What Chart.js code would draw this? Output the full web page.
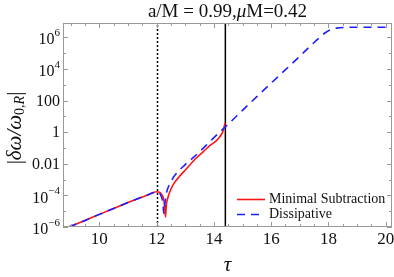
<!DOCTYPE html>
<html>
<head>
<meta charset="utf-8">
<script src="https://cdn.jsdelivr.net/npm/chart.js@4.4.0/dist/chart.umd.min.js"></script>
<style>
html,body{margin:0;padding:0;background:#fff;}
</style>
</head>
<body>
<canvas id="plot" width="394" height="277"></canvas>
<script>
// Minimal Subtraction (red, solid)
var msTau = [8.94, 9.5, 10, 10.5, 11, 11.5, 11.75, 12.0, 12.1, 12.18, 12.24, 12.28, 12.31, 12.34, 12.4, 12.5, 12.6, 12.8, 13.0, 13.35, 13.65, 13.9, 14.05, 14.17, 14.25, 14.31, 14.35, 14.39];
var msVal = [1.0e-6, 2.6e-6, 6.3e-6, 1.5e-5, 3.5e-5, 7.9e-5, 1.2e-4, 1.7e-4, 1.6e-4, 1.1e-4, 6.3e-5, 2.0e-5, 4.3e-6, 2.5e-5, 7.9e-5, 2.5e-4, 5.6e-4, 1.6e-3, 4.0e-3, 0.02, 0.063, 0.16, 0.25, 0.43, 0.66, 1.05, 1.9, 3.8];

// Dissipative (blue, dashed)
var dsTau = [8.94, 9.5, 10, 10.5, 11, 11.5, 11.75, 12.0, 12.1, 12.17, 12.22, 12.25, 12.29, 12.35, 12.45, 12.65, 13.0, 13.35, 13.7, 14.0, 14.5, 15.0, 15.5, 16.0, 16.5, 17.0, 17.4, 17.7, 17.9, 18.1, 18.3, 18.6, 19.0, 20.0];
var dsVal = [1.0e-6, 2.6e-6, 6.3e-6, 1.5e-5, 3.5e-5, 7.9e-5, 1.2e-4, 1.7e-4, 1.4e-4, 7.9e-5, 3.2e-5, 7.1e-6, 3.2e-5, 1.6e-4, 5.0e-4, 2.0e-3, 8.9e-3, 0.032, 0.13, 0.45, 3.2, 24, 178, 1260, 8900, 6.3e4, 3.2e5, 1.0e6, 2.0e6, 3.2e6, 3.8e6, 4.2e6, 4.3e6, 4.3e6];

// vertical markers: dotted, solid
var markTau = [12.03, 14.4];

// ticks
var xTicks = [10, 12, 14, 16, 18, 20];
var yTicks = [1e-6, 1e-4, 1e-2, 1, 1e2, 1e4, 1e6];
var yLabels = [['10', '\u22126'], ['10', '\u22124'], ['0.01'], ['1'], ['100'], ['10', '4'], ['10', '6']];

var xMin = 8.73, xMax = 20.22, yMin = 1e-6, yMax = 8e6;
var serif = '"Liberation Serif", "Times New Roman", serif';

function pts(xs, ys) {
  return xs.map(function(x, i){ return {x: x, y: ys[i]}; });
}

var deco = {
  id: 'deco',
  afterDraw: function(chart) {
    var ctx = chart.ctx, a = chart.chartArea;
    var sx = chart.scales.x, sy = chart.scales.y;
    ctx.save();
    // frame
    ctx.strokeStyle = '#999';
    ctx.lineWidth = 1;
    ctx.strokeRect(a.left + 0.5, a.top + 0.5, a.right - a.left - 1, a.bottom - a.top - 1);
    // inward ticks
    ctx.beginPath();
    for (var t = 9; t <= 20.001; t += 0.5) {
      var px = Math.round(sx.getPixelForValue(t)) + 0.5;
      var len = (t % 2 === 0) ? 5 : 3;
      ctx.moveTo(px, a.bottom); ctx.lineTo(px, a.bottom - len);
      ctx.moveTo(px, a.top); ctx.lineTo(px, a.top + len);
    }
    for (var e = -6; e <= 6; e++) {
      var py = Math.round(sy.getPixelForValue(Math.pow(10, e))) + 0.5;
      var l2 = (e % 2 === 0) ? 5 : 3;
      ctx.moveTo(a.left, py); ctx.lineTo(a.left + l2, py);
      ctx.moveTo(a.right, py); ctx.lineTo(a.right - l2, py);
    }
    ctx.stroke();

    ctx.fillStyle = '#111';
    // x tick labels
    ctx.textAlign = 'center';
    ctx.textBaseline = 'top';
    ctx.font = '17px ' + serif;
    xTicks.forEach(function(v){
      ctx.fillText(String(v), sx.getPixelForValue(v), a.bottom + 4);
    });

    ctx.textBaseline = 'middle';
    // y tick labels
    yTicks.forEach(function(v, i) {
      var py = sy.getPixelForValue(v);
      var lab = yLabels[i];
      var xr = a.left - 3;
      ctx.textAlign = 'left';
      if (lab.length === 1) {
        ctx.font = '16px ' + serif;
        var w = ctx.measureText(lab[0]).width;
        ctx.fillText(lab[0], xr - w, py + 1);
      } else {
        ctx.font = '16px ' + serif;
        var wb = ctx.measureText(lab[0]).width;
        ctx.font = '11px ' + serif;
        var we = ctx.measureText(lab[1]).width;
        ctx.font = '16px ' + serif;
        ctx.fillText(lab[0], xr - wb - we, py + 3);
        ctx.font = '11px ' + serif;
        ctx.fillText(lab[1], xr - we, py - 4);
      }
    });

    // title
    var parts = [['a/M = 0.99,', ''], ['\u03bc', 'italic '], ['M=0.42', '']];
    var tw = 0;
    parts.forEach(function(p){ ctx.font = p[1] + '19px ' + serif; tw += ctx.measureText(p[0]).width; });
    var cx = (a.left + a.right) / 2 - tw / 2;
    ctx.textAlign = 'left';
    parts.forEach(function(p){
      ctx.font = p[1] + '19px ' + serif;
      ctx.fillText(p[0], cx, 12);
      cx += ctx.measureText(p[0]).width;
    });

    // x title
    ctx.textAlign = 'center';
    ctx.font = 'italic 21px ' + serif;
    ctx.fillText('\u03c4', (a.left + a.right) / 2, 265);

    // y title, rotated
    var yp = [['|', '', 21, 0], ['\u03b4\u03c9/\u03c9', 'italic ', 21, 0], ['0,', '', 14, 5], ['R', 'italic ', 14, 5], ['|', '', 21, 0]];
    var yw = 0;
    yp.forEach(function(p){ ctx.font = p[1] + p[2] + 'px ' + serif; yw += ctx.measureText(p[0]).width; });
    ctx.translate(15, (a.top + a.bottom) / 2 + 3);
    ctx.rotate(-Math.PI / 2);
    var ux = -yw / 2;
    ctx.textAlign = 'left';
    yp.forEach(function(p){
      ctx.font = p[1] + p[2] + 'px ' + serif;
      ctx.fillText(p[0], ux, p[3]);
      ux += ctx.measureText(p[0]).width;
    });
    ctx.setTransform(1, 0, 0, 1, 0, 0);

    // legend
    var ds = chart.data.datasets;
    [[ds[1], 199], [ds[0], 214]].forEach(function(item){
      var d = item[0], ly = item[1] + 0.5;
      ctx.strokeStyle = d.borderColor;
      ctx.lineWidth = d.borderWidth;
      ctx.setLineDash(d.borderDash || []);
      ctx.beginPath(); ctx.moveTo(237, ly); ctx.lineTo(265, ly); ctx.stroke();
      ctx.setLineDash([]);
      ctx.fillStyle = '#111';
      ctx.font = '14px ' + serif;
      ctx.textAlign = 'left';
      ctx.fillText(d.label, 269, item[1]);
    });
    ctx.restore();
  }
};

var chart = new Chart(document.getElementById('plot'), {
  type: 'line',
  data: {
    datasets: [
      { label: 'Dissipative', data: pts(dsTau, dsVal), borderColor: 'rgb(30,30,255)', borderWidth: 1.6,
        borderDash: [8, 6], pointRadius: 0, cubicInterpolationMode: 'monotone', order: 1 },
      { label: 'Minimal Subtraction', data: pts(msTau, msVal), borderColor: 'rgb(255,20,20)', borderWidth: 1.6,
        pointRadius: 0, cubicInterpolationMode: 'monotone', order: 2 },
      { label: 'dotted', data: pts([markTau[0], markTau[0]], [yMin, 1e8]), borderColor: '#000', borderWidth: 1.5,
        borderDash: [2, 2], pointRadius: 0, order: 3 },
      { label: 'solid', data: pts([markTau[1], markTau[1]], [yMin, 1e8]), borderColor: '#000', borderWidth: 1.5,
        pointRadius: 0, order: 3 }
    ]
  },
  options: {
    responsive: false,
    animation: false,
    devicePixelRatio: 1,
    layout: { padding: { left: 0, top: 23, right: 2, bottom: 0 } },
    plugins: { legend: { display: false }, tooltip: { enabled: false } },
    scales: {
      x: {
        type: 'linear', min: xMin, max: xMax,
        grid: { display: false, drawTicks: false },
        border: { display: false },
        ticks: { display: false },
        afterFit: function(s){ s.height = 50; }
      },
      y: {
        type: 'logarithmic', min: yMin, max: yMax,
        grid: { display: false },
        border: { display: false },
        ticks: { display: false },
        afterFit: function(s){ s.width = 63; }
      }
    }
  },
  plugins: [deco]
});
</script>
</body>
</html>
